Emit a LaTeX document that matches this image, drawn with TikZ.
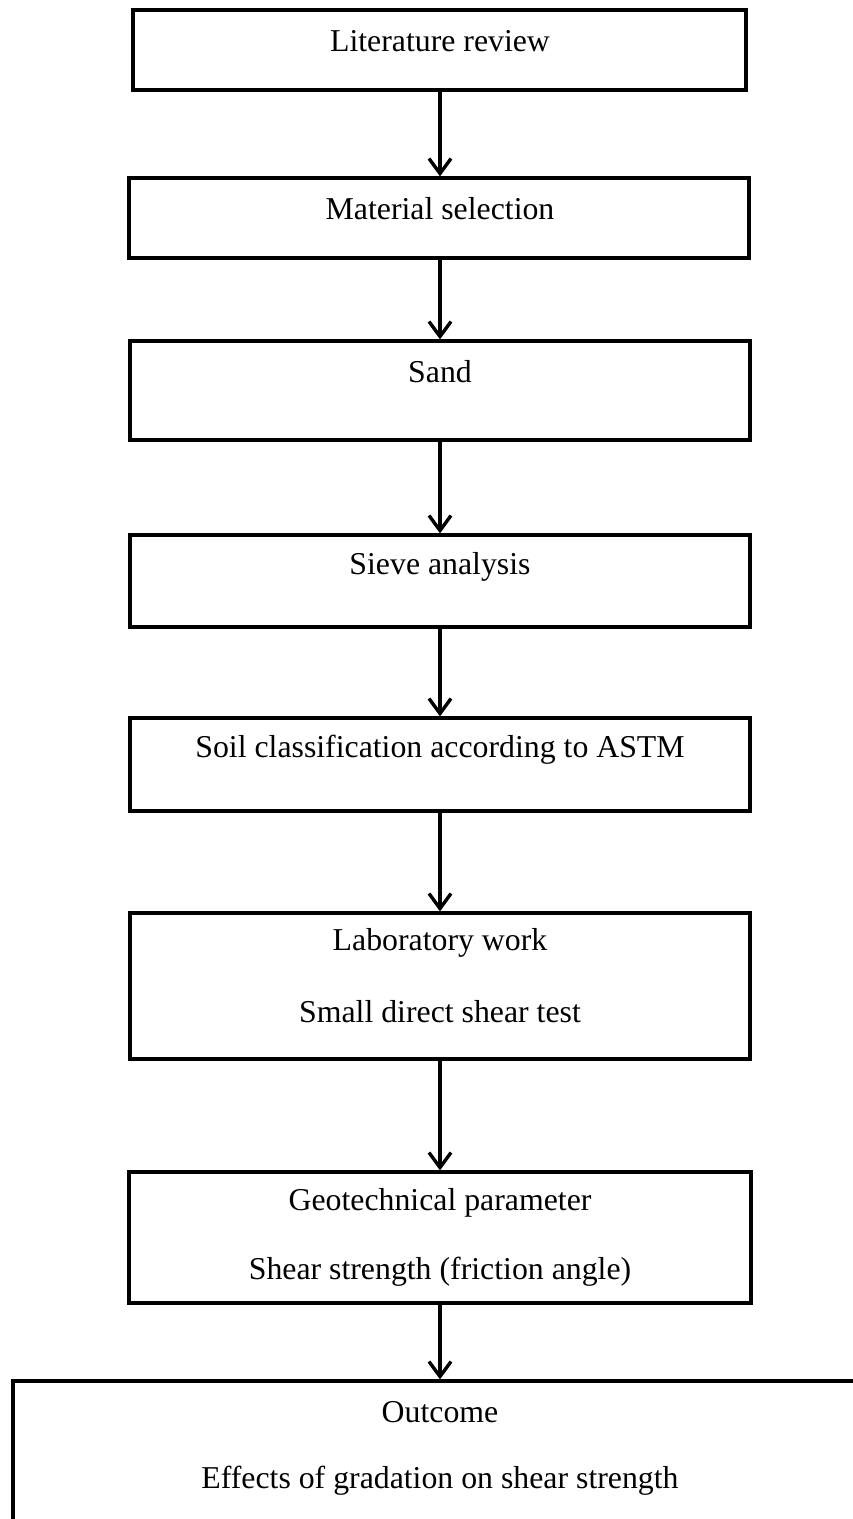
\documentclass[tikz,border=0pt]{standalone}
\usepackage{fontspec}
\setmainfont{Liberation Serif}
\usetikzlibrary{arrows.meta}
\begin{document}
\begin{tikzpicture}[x=1pt,y=-1pt,
  box/.style={draw=black, line width=3.2pt, rectangle, inner sep=0pt},
  txt/.style={font=\fontsize{31.8}{36}\selectfont, inner sep=0pt, anchor=center},
  arr/.style={line width=3.4pt, -{Straight Barb[length=15pt,width=22pt,line width=3.4pt]}}
]
\useasboundingbox (0,0) rectangle (852,1519);
% boxes (centers computed from left/top/right/bottom)
\node[box, minimum width=613pt, minimum height=80pt] (b1) at (439.5,50) {};
\node[box, minimum width=620pt, minimum height=80pt] (b2) at (439,218) {};
\node[box, minimum width=620pt, minimum height=99pt] (b3) at (440,390.5) {};
\node[box, minimum width=620pt, minimum height=92pt] (b4) at (440,581) {};
\node[box, minimum width=620pt, minimum height=93pt] (b5) at (440,764.5) {};
\node[box, minimum width=620pt, minimum height=146pt] (b6) at (440,986) {};
\node[box, minimum width=622pt, minimum height=131pt] (b7) at (440,1237.5) {};
\node[box, minimum width=880pt, minimum height=200pt] (b8) at (453,1481) {};
% texts
\node[txt] (t1) at (440,41) {Literature review};
\node[txt] (t2) at (440,209) {Material selection};
\node[txt] (t3) at (440,372) {Sand};
\node[txt] (t4) at (440,567) {Sieve analysis};
\node[txt] (t5) at (440,750) {Soil classification according to ASTM};
\node[txt] (t6a) at (440,943) {Laboratory work};
\node[txt] (t6b) at (440,1012) {Small direct shear test};
\node[txt] (t7a) at (440,1203) {Geotechnical parameter};
\node[txt] (t7b) at (440,1272) {Shear strength (friction angle)};
\node[txt] (t8a) at (440,1412) {Outcome};
\node[txt] (t8b) at (440,1481) {Effects of gradation on shear strength};
% arrows
\coordinate (ax) at (440,0);
\draw[arr] (ax |- b1.south) -- (ax |- b2.north);
\draw[arr] (ax |- b2.south) -- (ax |- b3.north);
\draw[arr] (ax |- b3.south) -- (ax |- b4.north);
\draw[arr] (ax |- b4.south) -- (ax |- b5.north);
\draw[arr] (ax |- b5.south) -- (ax |- b6.north);
\draw[arr] (ax |- b6.south) -- (ax |- b7.north);
\draw[arr] (ax |- b7.south) -- (ax |- b8.north);
\end{tikzpicture}
\end{document}
